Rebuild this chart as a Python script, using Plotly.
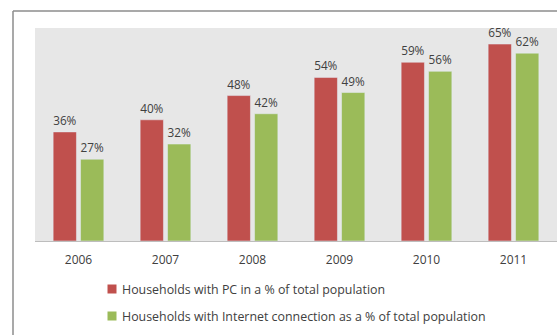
import plotly.graph_objects as go

# Household ICT penetration by year
years = ["2006", "2007", "2008", "2009", "2010", "2011"]
pc_share = [36, 40, 48, 54, 59, 65]
internet_share = [27, 32, 42, 49, 56, 62]

pc_name = "Households with PC in a % of total population"
net_name = "Households with Internet connection as a % of total population"

RED = "#c0504d"
GREEN = "#9bbb59"
TEXT = "#404040"
FONT = "Open Sans"

# figure geometry (pixels)
W, H = 557, 336
ML, MT, MB = 35, 28, 95
PW, PH = W - ML, H - MT - MB


def px_x(x):
    return (x - ML) / PW


def px_y(y):
    return (H - MB - y) / PH


fig = go.Figure()

for name, values, color in [(pc_name, pc_share, RED),
                            (net_name, internet_share, GREEN)]:
    fig.add_trace(go.Bar(
        x=years, y=values, name=name, marker_color=color,
        text=[f"{v}%" for v in values], textposition="outside",
        textfont=dict(family=FONT, size=12, color=TEXT),
        cliponaxis=False, showlegend=False,
    ))

# key below the axis: colour swatch + series name, one row per series
shapes = []
annotations = []
for row_y, name, color in [(289, pc_name, RED), (316, net_name, GREEN)]:
    shapes.append(dict(
        type="rect", xref="paper", yref="paper",
        x0=px_x(107.5), x1=px_x(116.5), y0=px_y(row_y + 4.5), y1=px_y(row_y - 4.5),
        fillcolor=color, line=dict(width=0),
    ))
    annotations.append(dict(
        text=name, xref="paper", yref="paper", x=px_x(120), y=px_y(row_y),
        xanchor="left", yanchor="middle", showarrow=False,
        font=dict(family=FONT, size=12.4, color=TEXT),
    ))

# outer frame: top and left edges
frame = dict(type="line", xref="paper", yref="paper",
             line=dict(color="#8c8c8c", width=1.5), layer="below")
shapes.append(dict(frame, x0=px_x(13), x1=1, y0=px_y(11), y1=px_y(11)))
shapes.append(dict(frame, x0=px_x(13), x1=px_x(13), y0=px_y(335), y1=px_y(11)))

fig.update_layout(
    width=W, height=H,
    margin=dict(l=ML, r=0, t=MT, b=MB),
    paper_bgcolor="white",
    plot_bgcolor="#e7e7e7",
    barmode="group", bargap=0.37, bargroupgap=0.15,
    showlegend=False,
    xaxis=dict(
        showgrid=False, showline=True, linecolor="#bdbdbd", linewidth=1,
        ticks="", ticklabelstandoff=8,
        tickfont=dict(family=FONT, size=12, color=TEXT),
        fixedrange=True,
    ),
    yaxis=dict(
        range=[0, 70.3], visible=False, showgrid=False, zeroline=False,
        fixedrange=True,
    ),
    shapes=shapes,
    annotations=annotations,
)

fig.write_html("out.html", config={"displayModeBar": False})
